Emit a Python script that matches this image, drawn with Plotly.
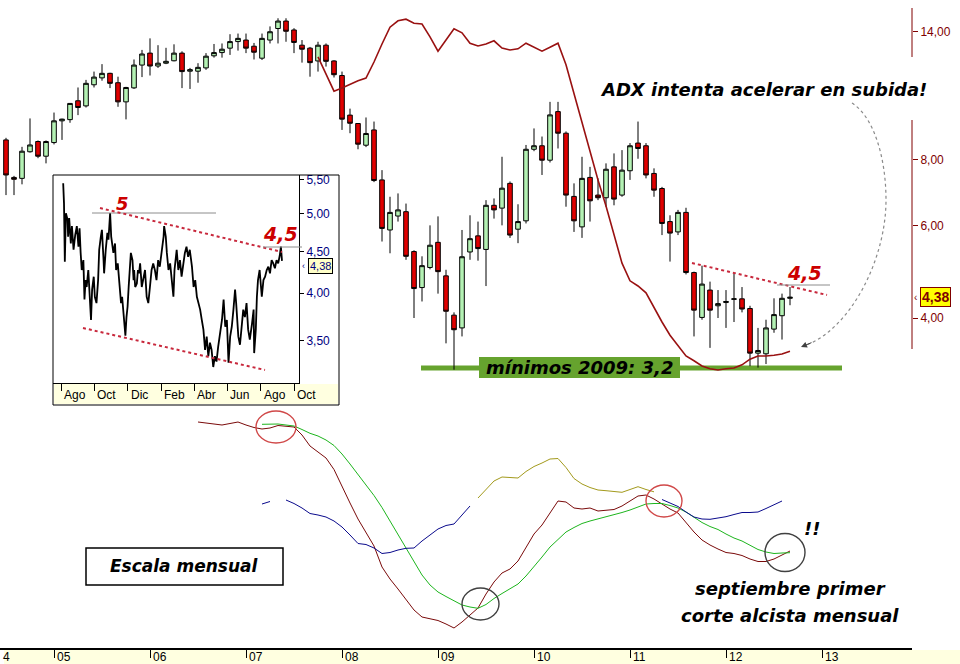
import plotly.graph_objects as go
import pandas as pd

W, H = 960, 664
def px(x):
    return x / W
def py(y):
    return 1 - y / H

# ---------------- DATA ----------------
# Monthly candles, first bar = July 2004 (month index 0)
first_month = "2004-07"
opens = [8.72, 7.40, 7.37, 8.28, 8.66, 8.12, 8.62, 9.48, 9.53, 10.35,
         10.12, 11.10, 11.44, 11.67, 11.20, 10.30, 10.95, 12.10, 12.75, 12.05,
         12.20, 12.33, 12.75, 11.78, 11.78, 11.95, 12.60, 12.78, 13.03, 13.41,
         13.50, 13.14, 12.47, 13.50, 14.20, 14.67, 14.11, 13.20, 13.03, 12.32,
         13.20, 12.32, 11.56, 9.72, 9.37, 8.52, 9.11, 7.32, 5.88, 6.25,
         6.37, 5.35, 4.57, 4.99, 5.57, 4.81, 4.05, 3.83, 5.34, 5.73,
         5.40, 6.55, 6.47, 7.21, 5.90, 6.12, 8.37, 8.50, 7.98, 9.87,
         8.98, 6.81, 5.96, 7.40, 6.85, 6.77, 7.75, 6.85, 7.62, 8.60,
         8.50, 7.53, 7.05, 6.10, 5.83, 6.35, 4.88, 4.01, 4.52, 4.22,
         4.28, 4.34, 4.35, 4.17, 3.43, 3.42, 3.81, 4.04, 4.36]
highs = [8.80, 7.45, 8.46, 9.58, 8.70, 8.70, 9.83, 9.57, 10.25, 10.97,
         11.34, 11.76, 12.15, 11.70, 11.50, 11.00, 12.40, 12.93, 13.60, 13.20,
         13.05, 13.25, 12.85, 11.95, 12.20, 12.75, 13.27, 13.30, 13.85, 13.89,
         13.89, 13.33, 13.89, 14.33, 14.85, 14.85, 14.22, 13.50, 13.10, 13.40,
         13.30, 12.36, 11.76, 10.00, 9.38, 9.62, 9.45, 7.64, 6.80, 6.90,
         6.60, 5.38, 5.24, 6.00, 6.24, 4.94, 4.10, 5.88, 6.27, 6.10,
         6.70, 6.75, 8.10, 7.27, 6.58, 8.53, 9.17, 8.85, 10.30, 10.30,
         9.05, 7.21, 8.10, 7.75, 7.37, 7.87, 8.22, 8.34, 8.60, 9.45,
         8.60, 7.70, 7.10, 6.27, 6.42, 6.48, 4.90, 5.03, 4.69, 4.52,
         4.52, 4.86, 4.58, 4.22, 3.83, 3.97, 4.36, 4.45, 4.58]
lows = [6.85, 6.85, 7.18, 8.25, 8.05, 7.87, 8.55, 8.72, 9.40, 9.72,
        10.05, 10.97, 11.30, 10.94, 10.08, 9.54, 10.90, 11.48, 11.56, 11.95,
        12.15, 12.30, 10.94, 10.90, 11.20, 11.85, 12.50, 12.50, 12.65, 12.89,
        12.75, 12.40, 12.37, 13.30, 13.30, 13.40, 12.75, 12.23, 11.50, 11.76,
        12.02, 11.46, 9.11, 8.98, 8.37, 8.45, 7.25, 5.59, 5.31, 6.10,
        5.16, 4.00, 4.30, 4.95, 4.45, 3.58, 3.19, 3.69, 5.16, 5.14,
        4.60, 6.18, 6.00, 5.68, 5.55, 6.05, 8.30, 7.48, 7.90, 8.40,
        6.51, 5.83, 5.68, 6.10, 6.70, 6.51, 6.55, 6.80, 7.32, 8.03,
        7.37, 6.80, 5.75, 5.12, 5.75, 4.84, 3.69, 3.97, 3.51, 4.00,
        3.83, 3.93, 4.10, 3.24, 3.22, 3.27, 3.75, 3.64, 4.23]
closes = [7.48, 7.34, 8.30, 8.53, 8.12, 8.66, 9.48, 9.55, 10.23, 10.05,
          11.17, 11.48, 11.67, 11.17, 10.30, 10.97, 12.10, 12.70, 12.05, 12.20,
          12.30, 12.75, 11.76, 11.86, 11.98, 12.58, 12.78, 12.97, 13.41, 13.60,
          13.03, 12.80, 13.60, 14.00, 14.67, 14.03, 13.36, 12.97, 12.23, 13.20,
          12.30, 11.60, 9.55, 9.38, 8.56, 8.97, 7.30, 5.92, 6.35, 6.42,
          5.24, 4.55, 5.03, 5.50, 4.90, 4.12, 3.80, 5.23, 5.66, 5.42,
          6.55, 6.42, 7.06, 5.75, 6.10, 8.37, 8.50, 7.98, 9.73, 8.98,
          6.85, 6.12, 7.37, 6.68, 6.77, 7.67, 6.73, 7.64, 8.50, 8.40,
          7.48, 7.00, 6.05, 5.80, 6.35, 4.88, 4.14, 4.64, 4.14, 4.26,
          4.30, 4.35, 4.16, 3.43, 3.47, 3.83, 4.06, 4.36, 4.38]
months = list(range(len(opens)))

year_ticks = [6, 18, 30, 42, 54, 66, 78, 90, 102]   # January of each year
year_labels = ["05", "06", "07", "08", "09", "10", "11", "12", "13"]

price_ticks = [4, 6, 8, 14]
price_ticktext = ["4,00", "6,00", "8,00", "14,00"]
last_price_text = "4,38"

# ADX (overlay on price panel), starts Oct 2007
adx_start = 39
adx = [47.9, 45.75, 43.6, 44.0, 44.5, 44.9, 45.25, 47.25, 49.5, 51.6,
       52.4, 52.6, 52.1, 52.0, 50.4, 48.6, 50.0, 51.4, 50.9, 49.6,
       49.25, 49.5, 49.9, 49.0, 48.75, 48.9, 49.6, 49.1, 48.6, 49.1,
       49.6, 46.9, 43.25, 39.75, 36.1, 32.5, 29.25, 25.6, 22.1, 19.9,
       19.25, 18.4, 16.5, 14.75, 13.1, 11.75, 10.5, 9.9, 9.25, 8.9,
       8.75, 8.9, 9.0, 9.4, 10.1, 10.5, 10.5, 10.6, 10.75, 11.1]

# Lower monthly oscillator panel
macd_start = 24
macd = [11.8, 11.7, 11.6, 11.5, 11.65, 11.8, 11.5, 11.25, 11.1, 11.2,
        11.45, 11.4, 11.3, 10.5, 9.4, 8.8, 8.2, 7.05, 5.3, 3.7,
        2.1, 0.8, -0.6, -2.7, -3.9, -4.9, -6.0, -7.0, -7.7, -7.9,
        -8.05, -8.4, -8.8, -8.2, -7.5, -6.8, -5.4, -4.2, -3.3, -2.9,
        -2.1, -0.7, 0.6, 1.5, 2.7, 3.9, 3.8, 3.2, 3.1, 3.2,
        2.9, 3.0, 3.05, 3.4, 3.9, 4.4, 4.5, 4.1, 3.6, 3.1,
        2.7, 1.7, 0.8, 0.0, -0.5, -0.9, -1.25, -1.35, -1.55, -1.9,
        -2.15, -2.15, -1.9, -1.5, -1.1]
signal_start = 32
signal = [11.57, 11.6, 11.6, 11.5, 11.4, 11.05, 10.67, 10.4, 10.0, 9.45,
          8.6, 7.6, 6.55, 5.55, 4.45, 3.25, 1.9, 0.55, -0.9, -2.2,
          -3.5, -4.5, -5.2, -5.65, -6.1, -6.5, -6.7, -6.83, -6.45, -5.85,
          -5.35, -4.9, -4.4, -3.6, -2.7, -1.7, -0.7, 0.05, 0.8, 1.25,
          1.65, 1.9, 2.1, 2.3, 2.5, 2.75, 3.0, 3.3, 3.6, 3.65,
          3.65, 3.45, 3.2, 2.8, 2.25, 1.75, 1.35, 1.05, 0.6, 0.2,
          -0.1, -0.55, -0.95, -1.2, -1.35, -1.3, -1.27]
osc_start = 32
osc = [3.6, 3.85, None, 4.0, 3.65, 3.2, 2.65, 2.5, 2.3, 1.9,
       1.3, 0.5, -0.35, -0.45, -0.8, -1.35, -1.25, -1.0, -0.83, -0.8,
       -0.1, 0.5, 1.1, 1.45, 1.6, 2.5, 3.4, 4.2, 5.05, 5.9,
       6.3, 6.25, 6.2, 6.85, 7.35, 7.7, 8.1, 8.15, 7.25, 6.15,
       5.6, 5.25, 5.0, 4.93, 4.85, 4.77, 5.05, 5.33, 5.05, 4.82,
       4.05, 3.7, 3.35, 2.8, 2.3, 2.1, 2.07, 2.2, 2.33, 2.55,
       2.75, 2.75, 2.8, 3.15, 3.55, 3.9]
osc_olive_months = (59, 81)   # months where the oscillator is drawn olive

# Inset: daily prices, Aug 2011 - Sep 2012 (days after 2011-08-01)
inset_base = "2011-08-01"
inset_days = [4, 5.5, 7, 9, 12, 13, 15, 18, 20, 23,
              26, 29, 32, 34, 36, 38, 41, 43, 45, 47,
              50, 53, 55, 57, 60, 62, 65, 68, 70, 73,
              75, 78, 79, 82, 85, 87, 90, 92, 93, 96,
              99, 101, 104, 106, 108, 110, 112, 114, 116, 118,
              120, 122, 124, 126, 128, 131, 133, 134, 136, 139,
              141, 143, 145, 148, 151, 154, 157, 160, 163, 166,
              169, 172, 175, 178, 181, 185, 188, 189, 192, 194,
              197, 200, 203, 206, 208, 210, 212, 215, 218, 221,
              224, 227, 230, 233, 236, 240, 243, 246, 249, 252,
              255, 258, 261, 264, 267, 270, 273, 276, 279, 282,
              285, 288, 291, 295, 298, 301, 304, 307, 310, 313,
              316, 319, 321, 323, 325, 328, 331, 334, 337, 340,
              343, 346, 350, 353, 354, 357, 359, 361, 364, 366,
              368, 371, 374, 377, 380, 383, 386, 389, 392, 395,
              398, 401, 403, 405]
inset_price = [5.45, 5.15, 4.37, 5.01, 4.92, 4.69, 4.94, 4.60, 4.83, 4.52,
               4.71, 4.83, 4.56, 4.80, 4.48, 4.27, 4.39, 3.93, 4.15, 4.07,
               4.27, 3.85, 3.71, 4.04, 4.19, 3.96, 3.89, 4.15, 4.52, 4.69,
               4.78, 4.39, 4.23, 4.52, 4.74, 4.65, 5.01, 4.69, 4.62, 4.48,
               4.60, 4.27, 4.35, 4.15, 4.04, 3.89, 3.96, 3.82, 3.64, 3.55,
               3.74, 3.85, 4.07, 4.31, 4.48, 4.39, 4.15, 4.27, 4.07, 4.11,
               4.27, 4.23, 4.35, 4.07, 4.19, 4.27, 3.96, 3.89, 4.07, 4.27,
               4.35, 4.27, 4.15, 4.39, 4.31, 4.52, 4.69, 4.83, 4.69, 4.48,
               4.27, 4.35, 4.15, 3.96, 4.27, 4.43, 4.52, 4.27, 4.39, 4.19,
               4.35, 4.48, 4.56, 4.43, 4.52, 4.31, 4.07, 4.15, 3.96, 3.89,
               3.82, 3.71, 3.61, 3.41, 3.54, 3.35, 3.48, 3.41, 3.25, 3.35,
               3.30, 3.44, 3.54, 3.71, 3.93, 3.64, 3.71, 3.29, 3.54, 3.64,
               3.82, 4.04, 3.89, 3.71, 3.54, 3.46, 3.64, 3.82, 3.74, 3.89,
               3.61, 3.51, 3.67, 3.82, 3.38, 3.61, 3.96, 4.15, 4.27, 4.07,
               3.96, 4.15, 4.19, 4.27, 4.31, 4.23, 4.39, 4.35, 4.29, 4.39,
               4.35, 4.45, 4.56, 4.38]
inset_month_ticks = ["2011-08-01", "2011-10-01", "2011-12-01", "2012-02-01",
                     "2012-04-01", "2012-06-01", "2012-08-01", "2012-10-01"]
inset_month_labels = ["Ago", "Oct", "Dic", "Feb", "Abr", "Jun", "Ago", "Oct"]
inset_ticks = [3.5, 4.0, 4.5, 5.0, 5.5]
inset_ticktext = ["3,50", "4,00", "4,50", "5,00", "5,50"]

# ---------------- FIGURE ----------------
DARKRED = "#800000"
fig = go.Figure()

fig.add_trace(go.Candlestick(
    x=months, open=opens, high=highs, low=lows, close=closes,
    xaxis="x", yaxis="y", whiskerwidth=0,
    increasing=dict(fillcolor="#B4F2B4", line=dict(color="black", width=1)),
    decreasing=dict(fillcolor="#E00000", line=dict(color="black", width=1)),
    hoverinfo="skip", showlegend=False))

fig.add_trace(go.Scatter(
    x=list(range(adx_start, adx_start + len(adx))), y=adx,
    xaxis="x", yaxis="y2", mode="lines",
    line=dict(color="#991111", width=1.6), hoverinfo="skip"))

fig.add_trace(go.Scatter(
    x=list(range(macd_start, macd_start + len(macd))), y=macd,
    xaxis="x", yaxis="y3", mode="lines",
    line=dict(color="#7A0A0A", width=1), hoverinfo="skip"))
fig.add_trace(go.Scatter(
    x=list(range(signal_start, signal_start + len(signal))), y=signal,
    xaxis="x", yaxis="y3", mode="lines",
    line=dict(color="#1DB51D", width=1), hoverinfo="skip"))

osc_x = list(range(osc_start, osc_start + len(osc)))
lo, hi = osc_olive_months
blue_a = [v if m < lo else None for m, v in zip(osc_x, osc)]
olive = [v if lo <= m <= hi else None for m, v in zip(osc_x, osc)]
blue_b = [v if m > hi else None for m, v in zip(osc_x, osc)]
for ys, col in [(blue_a, "#0A0A8C"), (olive, "#A39A1C"), (blue_b, "#0A0A8C")]:
    fig.add_trace(go.Scatter(x=osc_x, y=ys, xaxis="x", yaxis="y3", mode="lines",
                             line=dict(color=col, width=1), connectgaps=False,
                             hoverinfo="skip"))

inset_dates = pd.Timestamp(inset_base) + pd.to_timedelta(inset_days, unit="D")
fig.add_trace(go.Scatter(
    x=inset_dates, y=inset_price, xaxis="x2", yaxis="y4", mode="lines",
    line=dict(color="black", width=1.8), hoverinfo="skip"))

SANS = "Liberation Sans, Arial, sans-serif"
NARROW = "Liberation Sans Narrow, Arial Narrow, Liberation Sans, sans-serif"
BOLD = "DejaVu Sans, Verdana, sans-serif"

fig.update_layout(
    width=W, height=H, margin=dict(l=0, r=0, t=0, b=0),
    paper_bgcolor="white", plot_bgcolor="white", showlegend=False,
    boxgap=0.18,
    xaxis=dict(domain=[0, px(912)], range=[-0.75, 113.25], anchor="y3",
               showgrid=False, zeroline=False, showline=True, linecolor="black",
               linewidth=2, ticks="outside", ticklen=8, tickcolor="black",
               tickvals=year_ticks, showticklabels=False,
               rangeslider=dict(visible=False), automargin=False),
    yaxis=dict(domain=[py(400), 1], type="log", range=[0.446209, 1.206461],
               anchor="x", side="right", showgrid=False, zeroline=False,
               showline=False, ticks="outside", ticklen=5, tickcolor=DARKRED,
               tickvals=price_ticks, ticktext=price_ticktext,
               tickfont=dict(color=DARKRED, size=12, family=SANS), automargin=False),
    yaxis2=dict(overlaying="y", anchor="x", range=[5, 55], visible=False),
    yaxis3=dict(domain=[py(648), py(405)], range=[-10.8, 13.5], anchor="x",
                visible=False),
    xaxis2=dict(domain=[px(53), px(299)], type="date",
                range=["2011-07-17 08:00", "2012-10-10 04:00"], anchor="y4",
                showgrid=False, zeroline=False, showline=True, linecolor="black",
                linewidth=1, ticks="outside", ticklen=7, tickcolor="black",
                tickvals=inset_month_ticks, showticklabels=False, automargin=False),
    yaxis4=dict(domain=[py(383), py(175)], type="log", range=[0.49237, 0.74644],
                anchor="x2", side="right", showgrid=False, zeroline=False,
                showline=True, linecolor="black", linewidth=1, ticks="outside",
                ticklen=4, tickcolor="black", tickvals=inset_ticks,
                ticktext=inset_ticktext,
                tickfont=dict(color="#000080", size=12, family=SANS), automargin=False),
)

shapes = []
def rect(x0, y0, x1, y1, fill=None, line=None, width=1, layer="below"):
    shapes.append(dict(type="rect", xref="paper", yref="paper",
                       x0=px(x0), x1=px(x1), y0=py(y1), y1=py(y0),
                       fillcolor=fill if fill else "rgba(0,0,0,0)",
                       line=dict(color=line if line else "rgba(0,0,0,0)", width=width),
                       layer=layer))
def seg(x0, y0, x1, y1, color, width=1, dash="solid", layer="above"):
    shapes.append(dict(type="line", xref="paper", yref="paper",
                       x0=px(x0), x1=px(x1), y0=py(y0), y1=py(y1),
                       line=dict(color=color, width=width, dash=dash), layer=layer))
def ellipse(cx, cy, rx, ry, color):
    shapes.append(dict(type="circle", xref="paper", yref="paper",
                       x0=px(cx - rx), x1=px(cx + rx), y0=py(cy + ry), y1=py(cy - ry),
                       line=dict(color=color, width=1.4), layer="above"))

# bottom yellow strip of main time axis
rect(4, 650, 960, 664, fill="#FFFFE0")
# right price axis segments
seg(912, 8, 912, 57, DARKRED, 1)
seg(912, 120, 912, 349, DARKRED, 1)
# inset frame and yellow strip
rect(54, 384, 338, 404, fill="#FFFFE0")
rect(53, 175, 339, 405, line="black", width=1, layer="above")
# inset channel lines
seg(92, 213, 216, 213, "#8C8C8C", 1)
seg(100, 208, 282, 252, "#C8283C", 2, "dot")
seg(83, 328, 265, 370, "#C8283C", 2, "dot")
seg(263, 247, 302, 247, "#8C8C8C", 1)
# main resistance line
seg(692, 263, 827, 295, "#C8283C", 2, "dot")
seg(777, 285, 830, 285, "#8C8C8C", 1)
# 2009 low support line and label box
seg(421, 368, 842, 368, "#66A32E", 5, layer="below")
rect(479, 357, 680, 378, fill="#66A32E")
# "Escala mensual" box
rect(86, 548, 283, 585, fill="white", line="black", width=1.5, layer="above")
# circles in oscillator panel
ellipse(276, 427, 20, 16, "#D04848")
ellipse(480.5, 604, 18.5, 16, "#404040")
ellipse(664, 501, 18, 16, "#D04848")
ellipse(785, 552.5, 20, 19, "#404040")
# dotted curved arrow
def P(x, y):
    return f"{px(x):.5f},{py(y):.5f}"
shapes.append(dict(type="path", xref="paper", yref="paper",
                   path=f"M {P(852,103)} C {P(875,118)} {P(886,160)} {P(886,200)} "
                        f"C {P(886,260)} {P(850,330)} {P(804,346)}",
                   line=dict(color="#8A8A8A", width=1.2, dash="dot"), layer="above"))
fig.update_layout(shapes=shapes)

ann = []
def text(x, y, s, size=18, color="black", xanchor="center", font=BOLD, **kw):
    ann.append(dict(x=px(x), y=py(y), xref="paper", yref="paper", text=s,
                    showarrow=False, xanchor=xanchor, yanchor="middle",
                    font=dict(size=size, color=color, family=font), **kw))

for k, lab in zip(year_ticks, year_labels):
    ann.append(dict(x=k, y=py(657), xref="x", yref="paper", text=lab,
                    showarrow=False, xanchor="left", yanchor="middle", xshift=1,
                    font=dict(size=12, color="black", family=NARROW)))
text(1, 657, "4", 12, xanchor="left", font=NARROW)
for d, lab in zip(inset_month_ticks, inset_month_labels):
    ann.append(dict(x=d, y=py(395), xref="x2", yref="paper", text=lab,
                    showarrow=False, xanchor="left", yanchor="middle", xshift=1,
                    font=dict(size=12, color="black", family=SANS)))

text(763, 89, "<b><i>ADX intenta acelerar en subida!</i></b>", 18)
text(804, 273, "<b><i>4,5</i></b>", 19, "#CC0000")
text(579.5, 367.5, "<b><i>mínimos 2009: 3,2</i></b>", 18)
text(184.5, 566, "<b><i>Escala mensual</i></b>", 17)
text(812, 528, "<b><i>!!</i></b>", 18)
text(790, 588, "<b><i>septiembre primer</i></b>", 18)
text(790, 615, "<b><i>corte alcista mensual</i></b>", 18)
text(122, 203, "<b><i>5</i></b>", 18, "#CC0000")
text(280, 234, "<b><i>4,5</i></b>", 19, "#CC0000")

# current price flags
text(935.5, 297, f"<b>{last_price_text}</b>", 14, DARKRED, font=SANS,
     bgcolor="#FFFF00", bordercolor=DARKRED, borderwidth=1, borderpad=1)
text(915, 297, "‹", 10, DARKRED, font=SANS)
text(320, 266, last_price_text, 11, "#000080", font=SANS,
     bgcolor="#FFFFC8", bordercolor="black", borderwidth=1, borderpad=1)
text(303.5, 266, "‹", 9, "#000080", font=SANS)

# arrow head of the dotted curve
ann.append(dict(x=px(801), y=py(347), xref="paper", yref="paper", text="",
                showarrow=True, ax=12, ay=-5, arrowhead=2, arrowsize=1.2,
                arrowwidth=1, arrowcolor="#404040"))
fig.update_layout(annotations=ann)

fig.write_html("out.html", config={"displayModeBar": False},
               post_script="document.body.style.margin='0';document.body.style.overflow='hidden';")
